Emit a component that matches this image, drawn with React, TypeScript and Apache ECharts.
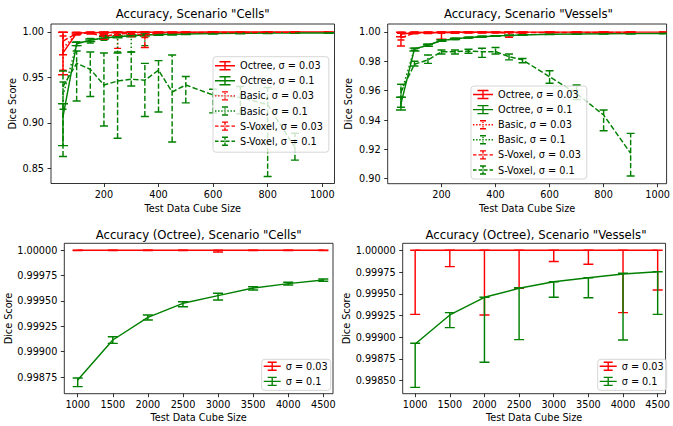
import React, { useEffect, useRef } from 'react';
import * as echarts from 'echarts';

const RED = '#ff0000';
const GREEN = '#008000';
const FONT = "'DejaVu Sans', sans-serif";

// ---------- x values ----------
const octreeX = [50, 100, 150, 200, 250, 300, 350, 400, 450, 500, 600, 700, 800, 900, 1024];
const basicX = [50, 100, 150, 200, 250, 300, 350];
const sVoxelX = [50, 100, 150, 200, 250, 300, 350, 400, 450, 500, 600, 700, 800, 900];
const bigX = [1000, 1500, 2000, 2500, 3000, 3500, 4000, 4500];

// ---------- tick labels ----------
const topXTicks = [200, 400, 600, 800, 1000];
const bigXTicks = [1000, 1500, 2000, 2500, 3000, 3500, 4000, 4500];
const cellsYTicks = [0.85, 0.9, 0.95, 1.0];
const vesselsYTicks = [0.9, 0.92, 0.94, 0.96, 0.98, 1.0];
const cellsBigYTicks = [0.99875, 0.999, 0.99925, 0.9995, 0.99975, 1.0];
const vesselsBigYTicks = [0.9985, 0.99875, 0.999, 0.99925, 0.9995, 0.99975, 1.0];

// ---------- Scenario "Cells" ----------
const cellsOct03Mean = [0.977, 0.9988, 0.9993, 0.9995, 0.9996, 0.9997, 0.9997, 0.9998, 0.9998, 0.9998, 0.9999, 0.9999, 0.9999, 0.9999, 0.9999];
const cellsOct03Lo = [0.953, 0.9978, 0.9986, 0.999, 0.9992, 0.9994, 0.9994, 0.9995, 0.9996, 0.9996, 0.9997, 0.9997, 0.9998, 0.9998, 0.9998];
const cellsOct03Hi = [0.9997, 0.9995, 0.9998, 0.9999, 0.9999, 0.9999, 0.9999, 0.9999, 1.0, 1.0, 1.0, 1.0, 1.0, 1.0, 1.0];

const cellsOct01Mean = [0.907, 0.987, 0.991, 0.9935, 0.9948, 0.9958, 0.9966, 0.9972, 0.9976, 0.9979, 0.9983, 0.9986, 0.9988, 0.9989, 0.999];
const cellsOct01Lo = [0.875, 0.985, 0.9895, 0.9922, 0.9936, 0.9947, 0.9956, 0.9963, 0.9968, 0.9972, 0.9977, 0.9981, 0.9984, 0.9985, 0.9987];
const cellsOct01Hi = [0.921, 0.9888, 0.9924, 0.9947, 0.9959, 0.9968, 0.9975, 0.998, 0.9983, 0.9985, 0.9988, 0.999, 0.9991, 0.9992, 0.9993];

const cellsBasic03Mean = [0.982, 0.9985, 0.9992, 0.9994, 0.9995, 0.9996, 0.9996];
const cellsBasic03Lo = [0.958, 0.997, 0.998, 0.998, 0.982, 0.995, 0.994];
const cellsBasic03Hi = [0.9956, 0.9995, 0.9998, 0.9998, 0.9999, 0.9999, 0.9999];

const cellsBasic01Mean = [0.93, 0.987, 0.991, 0.9935, 0.9948, 0.9958, 0.9966];
const cellsBasic01Lo = [0.915, 0.985, 0.988, 0.991, 0.978, 0.978, 0.985];
const cellsBasic01Hi = [0.945, 0.989, 0.993, 0.996, 0.997, 0.998, 0.998];

const cellsSV03Mean = [0.99, 0.9985, 0.999, 0.995, 0.998, 0.9985, 0.9965, 0.999, 0.9992, 0.9993, 0.9995, 0.9995, 0.9996, 0.9996];
const cellsSV03Lo = [0.975, 0.997, 0.998, 0.992, 0.996, 0.997, 0.983, 0.998, 0.998, 0.9985, 0.999, 0.999, 0.999, 0.999];
const cellsSV03Hi = [0.9997, 0.9995, 0.9998, 0.9974, 0.9995, 0.9998, 0.9995, 0.9998, 0.9998, 0.9999, 0.9999, 0.9999, 0.9999, 0.9999];

const cellsSV01Mean = [0.94, 0.9655, 0.959, 0.9417, 0.946, 0.948, 0.947, 0.958, 0.934, 0.9417, 0.9307, 0.928, 0.92, 0.873];
const cellsSV01Lo = [0.863, 0.924, 0.929, 0.8966, 0.883, 0.9406, 0.907, 0.912, 0.879, 0.922, 0.911, 0.91, 0.841, 0.859];
const cellsSV01Hi = [0.957, 0.979, 0.978, 0.977, 0.977, 0.978, 0.9655, 0.9685, 0.9747, 0.951, 0.937, 0.94, 0.939, 0.8885];

// ---------- Scenario "Vessels" ----------
const vesOct03Mean = [0.9985, 0.9996, 0.9997, 0.9997, 0.9998, 0.9998, 0.9998, 0.9999, 0.9999, 0.9999, 0.9999, 0.9999, 0.9999, 0.9999, 0.9999];
const vesOct03Lo = [0.9968, 0.9992, 0.9994, 0.995, 0.9995, 0.9996, 0.9996, 0.9997, 0.9997, 0.9997, 0.9998, 0.9998, 0.9998, 0.9998, 0.9998];
const vesOct03Hi = [0.9998, 0.9999, 0.9999, 1.0, 1.0, 1.0, 1.0, 1.0, 1.0, 1.0, 1.0, 1.0, 1.0, 1.0, 1.0];

const vesOct01Mean = [0.951, 0.9885, 0.991, 0.9942, 0.9953, 0.9962, 0.9968, 0.9973, 0.9977, 0.998, 0.9984, 0.9986, 0.9988, 0.9989, 0.999];
const vesOct01Lo = [0.9468, 0.987, 0.9903, 0.9937, 0.9949, 0.9959, 0.9965, 0.9971, 0.9975, 0.9978, 0.9982, 0.9984, 0.9986, 0.9987, 0.9988];
const vesOct01Hi = [0.9555, 0.989, 0.9917, 0.9947, 0.9957, 0.9965, 0.9971, 0.9975, 0.9979, 0.9982, 0.9986, 0.9988, 0.999, 0.9991, 0.9992];

const vesBasic03Mean = [0.9991, 0.9996, 0.9997, 0.9997, 0.9998, 0.9998, 0.9998];
const vesBasic03Lo = [0.9945, 0.9993, 0.9995, 0.9995, 0.9996, 0.9996, 0.9996];
const vesBasic03Hi = [0.9999, 0.9999, 0.9999, 0.9999, 1.0, 1.0, 1.0];

const vesBasic01Mean = [0.958, 0.9885, 0.991, 0.9942, 0.9953, 0.9962, 0.9968];
const vesBasic01Lo = [0.9555, 0.9875, 0.9903, 0.9937, 0.9949, 0.9959, 0.9965];
const vesBasic01Hi = [0.9643, 0.989, 0.9917, 0.9947, 0.9957, 0.9965, 0.9971];

const vesSV03Mean = [0.996, 0.9994, 0.9995, 0.9996, 0.9996, 0.9996, 0.9996, 0.9996, 0.9993, 0.9996, 0.9997, 0.9997, 0.9997, 0.9997];
const vesSV03Lo = [0.9905, 0.9988, 0.999, 0.9992, 0.9992, 0.9993, 0.9993, 0.9993, 0.9964, 0.9992, 0.9994, 0.9994, 0.9994, 0.9994];
const vesSV03Hi = [0.9991, 0.9999, 0.9999, 0.9999, 0.9999, 0.9999, 0.9999, 0.9999, 1.0, 0.9999, 0.9999, 0.9999, 0.9999, 0.9999];

const vesSV01Mean = [0.959, 0.978, 0.981, 0.9866, 0.9866, 0.987, 0.9866, 0.9866, 0.9832, 0.981, 0.9695, 0.958, 0.9434, 0.9173];
const vesSV01Lo = [0.9487, 0.9768, 0.9786, 0.985, 0.985, 0.9855, 0.9827, 0.985, 0.981, 0.979, 0.965, 0.954, 0.9327, 0.9018];
const vesSV01Hi = [0.9643, 0.98, 0.9843, 0.9877, 0.9877, 0.9882, 0.9889, 0.9895, 0.985, 0.982, 0.9736, 0.9639, 0.9468, 0.9309];

// ---------- Octree, large cubes ----------
const cellsBig03Mean = [1, 1, 1, 1, 1, 1, 1, 1];
const cellsBig03Lo = [0.999998, 0.999998, 0.999998, 0.999998, 0.999984, 0.999998, 0.999998, 0.999998];
const cellsBig03Hi = [1, 1, 1, 1, 1, 1, 1, 1];
const cellsBig01Mean = [0.99872, 0.999115, 0.999339, 0.999477, 0.999553, 0.999628, 0.999671, 0.999707];
const cellsBig01Lo = [0.998655, 0.999082, 0.999312, 0.999444, 0.99951, 0.999609, 0.999658, 0.999694];
const cellsBig01Hi = [0.99874, 0.999148, 0.999362, 0.999493, 0.999576, 0.999641, 0.999684, 0.999717];

const vesBig03Mean = [1, 1, 1, 1, 1, 1, 1, 1];
const vesBig03Lo = [0.999263, 0.999812, 0.999256, 0.999563, 0.99987, 0.999839, 0.999283, 0.999543];
const vesBig03Hi = [1, 1, 1, 1, 1, 1, 1, 1];
const vesBig01Mean = [0.998922, 0.999256, 0.999459, 0.999563, 0.999639, 0.999685, 0.999728, 0.999754];
const vesBig01Lo = [0.998423, 0.99911, 0.998711, 0.998972, 0.999459, 0.999455, 0.998968, 0.999263];
const vesBig01Hi = [0.99893, 0.999283, 0.999459, 0.99957, 0.999639, 0.999685, 0.999735, 0.999754];

const topNames = ['Octree, σ = 0.03', 'Octree, σ = 0.1', 'Basic, σ = 0.03', 'Basic, σ = 0.1', 'S-Voxel, σ = 0.03', 'S-Voxel, σ = 0.1'];
const bigNames = ['σ = 0.03', 'σ = 0.1'];

const DASH = [5.4, 2.3];
const DOT = [1.5, 2.4];
const LW = 1.45;

function makeSeries(list: any[], name: string, xs: number[], mean: number[], lo: number[], hi: number[], color: string, dash: number[] | null, cap: number, idx: number) {
  list.push({
    type: 'line', name, xAxisIndex: idx, yAxisIndex: idx,
    data: xs.map((x, i) => [x, mean[i]]),
    showSymbol: false, symbol: 'none', silent: true, clip: true,
    lineStyle: { color, width: LW, type: dash ? dash : 'solid' },
    itemStyle: { color },
  });
  list.push({
    type: 'custom', name: name + ' err', xAxisIndex: idx, yAxisIndex: idx, silent: true, clip: true,
    encode: { x: 0, y: [1, 2] },
    data: xs.map((x, i) => [x, lo[i], hi[i]]),
    renderItem: (params: any, api: any) => {
      const x = api.value(0);
      const a = api.coord([x, api.value(1)]);
      const b = api.coord([x, api.value(2)]);
      const bar: any = { stroke: color, lineWidth: LW };
      if (dash) bar.lineDash = dash;
      return {
        type: 'group',
        children: [
          { type: 'line', shape: { x1: a[0], y1: a[1], x2: b[0], y2: b[1] }, style: bar },
          { type: 'line', shape: { x1: a[0] - cap, y1: a[1], x2: a[0] + cap, y2: a[1] }, style: { stroke: color, lineWidth: LW } },
          { type: 'line', shape: { x1: b[0] - cap, y1: b[1], x2: b[0] + cap, y2: b[1] }, style: { stroke: color, lineWidth: LW } },
        ],
      };
    },
  });
}

function rect(x0: number, y0: number, x1: number, y1: number) {
  return `M${x0},${y0}L${x1},${y0}L${x1},${y1}L${x0},${y1}Z`;
}

function iconPath(w: number, style: string, capHalf: number) {
  const t = 1.4;
  const cy = 5;
  const cx = w / 2;
  const parts: string[] = [];
  if (style === 'solid') {
    parts.push(rect(0, cy - t / 2, w, cy + t / 2));
    parts.push(rect(cx - t / 2, 1, cx + t / 2, 9));
  } else if (style === 'dashed') {
    const seg = (w - 3 * 2) / 4;
    for (let k = 0; k < 4; k++) {
      const s = k * (seg + 2);
      parts.push(rect(s, cy - t / 2, s + seg, cy + t / 2));
    }
    parts.push(rect(cx - t / 2, 1, cx + t / 2, 3.6));
    parts.push(rect(cx - t / 2, 4.3, cx + t / 2, 5.7));
    parts.push(rect(cx - t / 2, 6.4, cx + t / 2, 9));
  } else {
    const n = 7;
    const step = (w - 1.4) / (n - 1);
    for (let k = 0; k < n; k++) {
      const s = k * step;
      parts.push(rect(s, cy - t / 2, s + 1.4, cy + t / 2));
    }
    parts.push(rect(cx - t / 2, 2.2, cx + t / 2, 3.4));
    parts.push(rect(cx - t / 2, 4.4, cx + t / 2, 5.6));
    parts.push(rect(cx - t / 2, 6.6, cx + t / 2, 7.8));
  }
  parts.push(rect(cx - capHalf, 0.3, cx + capHalf, 1.7));
  parts.push(rect(cx - capHalf, 8.3, cx + capHalf, 9.7));
  return 'path://' + parts.join('');
}

const textBase = { fontFamily: FONT, color: '#000' };

function xAxisCfg(gridIndex: number, min: number, max: number, ticks: number[], gap: number) {
  return {
    type: 'value', gridIndex, min, max,
    name: 'Test Data Cube Size', nameLocation: 'middle', nameGap: gap,
    nameTextStyle: { ...textBase, fontSize: 9.7 },
    axisLine: { show: false }, splitLine: { show: false },
    axisTick: { show: true, inside: false, length: 3.5, lineStyle: { color: '#000', width: 0.8 }, customValues: ticks },
    axisLabel: { show: true, margin: 6, ...textBase, fontSize: 9.7, customValues: ticks, formatter: (v: number) => String(v) },
  };
}

function yAxisCfg(gridIndex: number, min: number, max: number, ticks: number[], digits: number, gap: number) {
  return {
    type: 'value', gridIndex, min, max,
    name: 'Dice Score', nameLocation: 'middle', nameGap: gap, nameRotate: 90,
    nameTextStyle: { ...textBase, fontSize: 9.7 },
    axisLine: { show: false }, splitLine: { show: false },
    axisTick: { show: true, inside: false, length: 3.5, lineStyle: { color: '#000', width: 0.8 }, customValues: ticks },
    axisLabel: { show: true, margin: 7, ...textBase, fontSize: 9.7, customValues: ticks, formatter: (v: number) => v.toFixed(digits) },
  };
}

function legendCfg(names: string[], styles: string[], colors: string[], caps: number[], left: number, top: number, w: number, padding: number[]) {
  return {
    orient: 'vertical', left, top, padding, itemWidth: w, itemHeight: 10, itemGap: 5.1,
    selectedMode: false,
    backgroundColor: 'rgba(255,255,255,0.8)', borderColor: '#cccccc', borderWidth: 0.8, borderRadius: 3,
    textStyle: { ...textBase, fontSize: 9.7 },
    itemStyle: { borderWidth: 0 },
    data: names.map((n, i) => ({ name: n, icon: iconPath(w, styles[i], caps[i]), itemStyle: { color: colors[i], borderWidth: 0 } })),
  };
}

function titleCfg(text: string, cx: number, top: number) {
  return { text, left: cx, top, textAlign: 'center', padding: 0, textStyle: { ...textBase, fontSize: 11.7, fontWeight: 'normal' } };
}

export default function App() {
  const ref = useRef<HTMLDivElement>(null);
  useEffect(() => {
    if (!ref.current) return;
    const chart = echarts.init(ref.current, null, { renderer: 'svg' });
    const series: any[] = [];
    // Cells (grid 0)
    makeSeries(series, topNames[0], octreeX, cellsOct03Mean, cellsOct03Lo, cellsOct03Hi, RED, null, 5, 0);
    makeSeries(series, topNames[1], octreeX, cellsOct01Mean, cellsOct01Lo, cellsOct01Hi, GREEN, null, 5, 0);
    makeSeries(series, topNames[2], basicX, cellsBasic03Mean, cellsBasic03Lo, cellsBasic03Hi, RED, DOT, 3.5, 0);
    makeSeries(series, topNames[3], basicX, cellsBasic01Mean, cellsBasic01Lo, cellsBasic01Hi, GREEN, DOT, 3.5, 0);
    makeSeries(series, topNames[4], sVoxelX, cellsSV03Mean, cellsSV03Lo, cellsSV03Hi, RED, DASH, 4, 0);
    makeSeries(series, topNames[5], sVoxelX, cellsSV01Mean, cellsSV01Lo, cellsSV01Hi, GREEN, DASH, 4, 0);
    // Vessels (grid 1)
    makeSeries(series, topNames[0], octreeX, vesOct03Mean, vesOct03Lo, vesOct03Hi, RED, null, 5, 1);
    makeSeries(series, topNames[1], octreeX, vesOct01Mean, vesOct01Lo, vesOct01Hi, GREEN, null, 5, 1);
    makeSeries(series, topNames[2], basicX, vesBasic03Mean, vesBasic03Lo, vesBasic03Hi, RED, DOT, 3.5, 1);
    makeSeries(series, topNames[3], basicX, vesBasic01Mean, vesBasic01Lo, vesBasic01Hi, GREEN, DOT, 3.5, 1);
    makeSeries(series, topNames[4], sVoxelX, vesSV03Mean, vesSV03Lo, vesSV03Hi, RED, DASH, 4, 1);
    makeSeries(series, topNames[5], sVoxelX, vesSV01Mean, vesSV01Lo, vesSV01Hi, GREEN, DASH, 4, 1);
    // Octree Cells (grid 2)
    makeSeries(series, bigNames[0], bigX, cellsBig03Mean, cellsBig03Lo, cellsBig03Hi, RED, null, 5, 2);
    makeSeries(series, bigNames[1], bigX, cellsBig01Mean, cellsBig01Lo, cellsBig01Hi, GREEN, null, 5, 2);
    // Octree Vessels (grid 3)
    makeSeries(series, bigNames[0], bigX, vesBig03Mean, vesBig03Lo, vesBig03Hi, RED, null, 5, 3);
    makeSeries(series, bigNames[1], bigX, vesBig01Mean, vesBig01Lo, vesBig01Hi, GREEN, null, 5, 3);

    const gridBase = { show: true, borderColor: '#000', borderWidth: 0.8, backgroundColor: 'transparent', containLabel: false };
    const topStyles = ['solid', 'solid', 'dotted', 'dotted', 'dashed', 'dashed'];
    const topColors = [RED, GREEN, RED, GREEN, RED, GREEN];
    const topCaps = [5.5, 5.5, 3, 3, 3, 3];

    chart.setOption({
      animation: false,
      backgroundColor: '#ffffff',
      title: [
        titleCfg('Accuracy, Scenario "Cells"', 192.7, 8),
        titleCfg('Accuracy, Scenario "Vessels"', 528.4, 8),
        titleCfg('Accuracy (Octree), Scenario "Cells"', 198.7, 228.5),
        titleCfg('Accuracy (Octree), Scenario "Vessels"', 536, 228.5),
      ],
      grid: [
        { ...gridBase, left: 51, top: 24, width: 283.5, height: 159.5 },
        { ...gridBase, left: 387.7, top: 24, width: 281.3, height: 159.7 },
        { ...gridBase, left: 64.3, top: 243.3, width: 268.7, height: 150.4 },
        { ...gridBase, left: 402.7, top: 243.3, width: 266.6, height: 150.4 },
      ],
      xAxis: [
        xAxisCfg(0, 6, 1045, topXTicks, 20),
        xAxisCfg(1, 1, 1033, topXTicks, 20),
        xAxisCfg(2, 809, 4638, bigXTicks, 19),
        xAxisCfg(3, 820, 4614, bigXTicks, 19),
      ],
      yAxis: [
        yAxisCfg(0, 0.8333, 1.0088, cellsYTicks, 2, 34),
        yAxisCfg(1, 0.8966, 1.00545, vesselsYTicks, 2, 34),
        yAxisCfg(2, 0.9985853, 1.0000691, cellsBigYTicks, 5, 47.6),
        yAxisCfg(3, 0.99835, 1.0000805, vesselsBigYTicks, 5, 49),
      ],
      legend: [
        legendCfg(topNames, topStyles, topColors, topCaps, 213, 56.7, 20, [4, 6, 6, 2]),
        legendCfg(topNames, topStyles, topColors, topCaps, 471, 86, 20, [3.5, 6, 4, 2]),
        legendCfg(bigNames, ['solid', 'solid'], [RED, GREEN], [4.5, 4.5], 261.7, 359.3, 17, [2, 3, 4, 2]),
        legendCfg(bigNames, ['solid', 'solid'], [RED, GREEN], [4.5, 4.5], 597.7, 359.3, 17, [2, 3, 4, 2]),
      ],
      series,
    });
    return () => chart.dispose();
  }, []);
  return <div ref={ref} style={{ position: 'fixed', left: 0, top: 0, width: 673, height: 426, background: '#fff' }} />;
}
